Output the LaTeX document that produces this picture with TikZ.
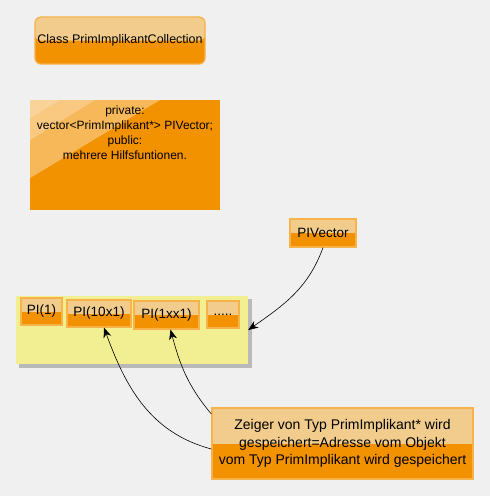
\documentclass[tikz,border=0pt]{standalone}
\usepackage{fontspec}
\setmainfont{Liberation Sans}
\usetikzlibrary{arrows.meta}
\definecolor{bggray}{HTML}{F0F0F0}
\definecolor{orangemain}{HTML}{F39200}
\definecolor{orangelight}{HTML}{F1CC8C}
\definecolor{orangeedge}{HTML}{F8B24A}
\definecolor{noteyellow}{HTML}{F2EE92}
\tikzset{
  obox/.style={draw=orangeedge,line width=1.3pt,fill=orangemain,inner sep=0pt,
    path picture={\fill[color=orangelight] (path picture bounding box.north west)
      rectangle (path picture bounding box.east);}},
  pibox/.style={obox,font=\fontsize{13.5}{16}\selectfont},
  ptr/.style={draw=black,line width=0.6pt,-{Stealth[length=10pt,width=8pt]}}
}
\begin{document}
\begin{tikzpicture}[x=1pt,y=1pt]
\useasboundingbox (0,0) rectangle (490,-496);
\fill[color=bggray] (0,0) rectangle (490,-496);
% class name
\node[obox,rounded corners=6pt,minimum width=170,minimum height=47,
  font=\fontsize{12.5}{15}\selectfont] (cls) at (120,-40.5) {Class PrimImplikantCollection};
% members
\node[fill=orangemain,minimum width=190,minimum height=110,inner sep=0pt] (priv) at (125,-155) {};
\begin{scope}
  \clip (30,-100) rectangle (220,-210);
  \fill[white,opacity=0.35] (30,-100) -- (160,-100) -- (30,-178) -- cycle;
  \fill[white,opacity=0.25] (30,-100) -- (95,-100) -- (30,-140) -- cycle;
  \fill[white,opacity=0.2] (30,-100) -- (60,-100) -- (30,-118) -- cycle;
\end{scope}
\node[align=center,anchor=north,inner sep=0pt,font=\fontsize{12}{15}\selectfont]
  (privtext) at ([yshift=-6]priv.north) {private:\\vector<PrimImplikant*> PIVector;\\public:\\mehrere Hilfsfuntionen.};
% vector pointer
\node[pibox,minimum width=66,minimum height=28] (vec) at (323,-233) {PIVector};
% note with elements
\fill[color=gray!55] (19,-299) rectangle (252,-368);
\node[fill=noteyellow,minimum width=232,minimum height=68,inner sep=0pt] (store) at (132,-330) {};
\node[pibox,minimum width=41,minimum height=27] (pi1) at (41.5,-311.5) {PI(1)};
\node[pibox,minimum width=64,minimum height=27] (pi2) at (99,-313.5) {PI(10x1)};
\node[pibox,minimum width=65,minimum height=28] (pi3) at (166.5,-315) {PI(1xx1)};
\node[pibox,minimum width=32,minimum height=27] (pi4) at (223,-314.5) {.....};
% explanation
\node[obox,minimum width=261,minimum height=71,align=center,
  font=\fontsize{14}{17.5}\selectfont] (expl) at (342.5,-443.5)
  {Zeiger von Typ PrimImplikant* wird\\gespeichert=Adresse vom Objekt\\vom Typ PrimImplikant wird gespeichert};
\coordinate (e1) at ([yshift=29.5]expl.west);
\coordinate (e2) at ([yshift=-5.5]expl.west);
\draw[ptr] (vec.south) to[out=-110,in=35] (store.east);
\draw[ptr] (e1) to[out=130,in=-75] ([xshift=4]pi3.south);
\draw[ptr] (e2) to[out=165,in=-70] ([xshift=5]pi2.south);
\end{tikzpicture}
\end{document}
